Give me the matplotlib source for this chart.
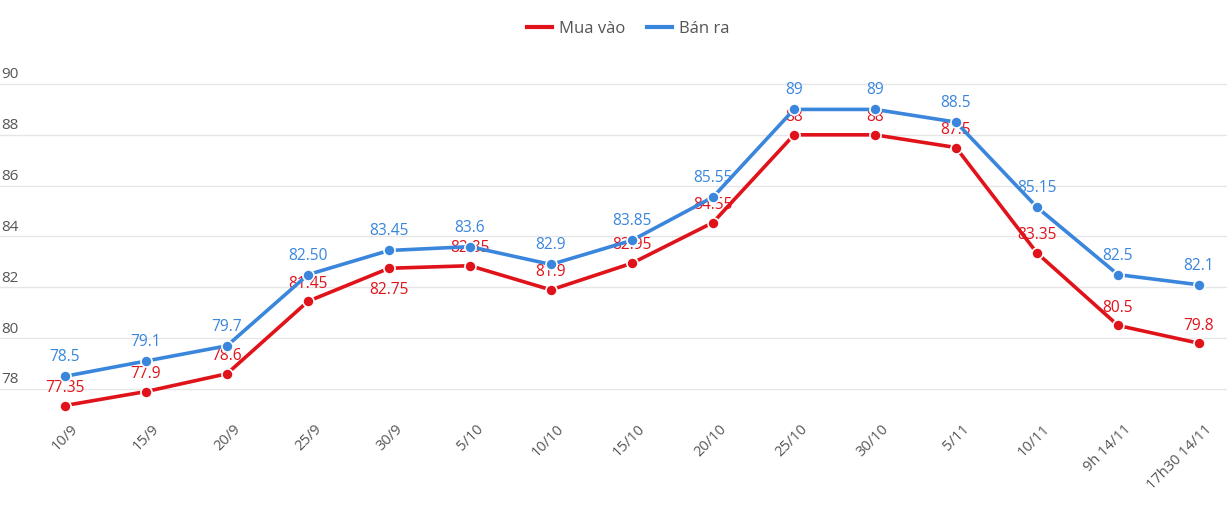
import matplotlib
matplotlib.use("Agg")
import matplotlib.pyplot as plt
import matplotlib.transforms as mtransforms

categories = ["10/9", "15/9", "20/9", "25/9", "30/9", "5/10", "10/10", "15/10",
              "20/10", "25/10", "30/10", "5/11", "10/11", "9h 14/11", "17h30 14/11"]
mua_vao = [77.35, 77.9, 78.6, 81.45, 82.75, 82.85, 81.9, 82.95, 84.55, 88, 88, 87.5, 83.35, 80.5, 79.8]
ban_ra = [78.5, 79.1, 79.7, 82.50, 83.45, 83.6, 82.9, 83.85, 85.55, 89, 89, 88.5, 85.15, 82.5, 82.1]
mua_labels = ["77.35", "77.9", "78.6", "81.45", "82.75", "82.85", "81.9", "82.95",
              "84.55", "88", "88", "87.5", "83.35", "80.5", "79.8"]
ban_labels = ["78.5", "79.1", "79.7", "82.50", "83.45", "83.6", "82.9", "83.85",
              "85.55", "89", "89", "88.5", "85.15", "82.5", "82.1"]
yticks = [78, 80, 82, 84, 86, 88, 90]

RED = "#E0121A"
BLUE = "#3A86DC"
GRAY = "#555555"

plt.rcParams['font.family'] = ['Open Sans', 'DejaVu Sans']

W, H = 1227, 532
fig = plt.figure(figsize=(W / 100, H / 100), dpi=100)
top_px, bot_px = 60, 420
ax = fig.add_axes([0, 1 - bot_px / H, 1, (bot_px - top_px) / H])

ppu = (389 - 84) / 12.0
ax.set_ylim(78 - (bot_px - 389) / ppu, 90 + (84 - top_px) / ppu)
sp = (1199 - 65) / 14.0
ax.set_xlim(-65 / sp, 14 + (W - 1199) / sp)

x = list(range(len(categories)))
for yv in yticks:
    ax.axhline(yv, color="#e6e6e6", lw=1, zorder=0)
trans = mtransforms.blended_transform_factory(ax.transAxes, ax.transData)
for yv in yticks:
    ax.text(0.001, yv + 0.06, f"{yv}", transform=trans, ha="left", va="bottom",
            fontsize=11, color=GRAY)

l1, = ax.plot(x, mua_vao, color=RED, lw=2.6, marker="o", ms=8,
              markeredgecolor="white", markeredgewidth=1.2, zorder=3, label="Mua vào")
l2, = ax.plot(x, ban_ra, color=BLUE, lw=2.6, marker="o", ms=8,
              markeredgecolor="white", markeredgewidth=1.2, zorder=3, label="Bán ra")

FS = 11.2
for i, (v, s) in enumerate(zip(mua_vao, mua_labels)):
    if i == 4:
        ax.annotate(s, (i, v), xytext=(0, -10), textcoords="offset points",
                    ha="center", va="top", fontsize=FS, color=RED, zorder=2)
    else:
        ax.annotate(s, (i, v), xytext=(0, 7), textcoords="offset points",
                    ha="center", va="bottom", fontsize=FS, color=RED, zorder=2)
for i, (v, s) in enumerate(zip(ban_ra, ban_labels)):
    ax.annotate(s, (i, v), xytext=(0, 8), textcoords="offset points",
                ha="center", va="bottom", fontsize=FS, color=BLUE, zorder=4)

ax.set_xticks(x)
ax.set_xticklabels([])
ax.tick_params(length=0)
ax.set_yticks([])
for i, c in enumerate(categories):
    ax.text(i + 0.07, 76.72, c, rotation=45, rotation_mode="anchor",
            ha="right", va="top", fontsize=10.5, color=GRAY, transform=ax.transData,
            clip_on=False)
for s in ax.spines.values():
    s.set_visible(False)

fig.legend(handles=[l1, l2], labels=["Mua vào", "Bán ra"], loc="center",
           bbox_to_anchor=(0.512, 1 - 29 / H), ncol=2, frameon=False,
           fontsize=12, labelcolor=GRAY, handlelength=1.5, columnspacing=1.3,
           handletextpad=0.4)
for h in fig.legends[0].legend_handles:
    h.set_marker("")
    h.set_linewidth(3)

fig.savefig("out.png", dpi=100)
